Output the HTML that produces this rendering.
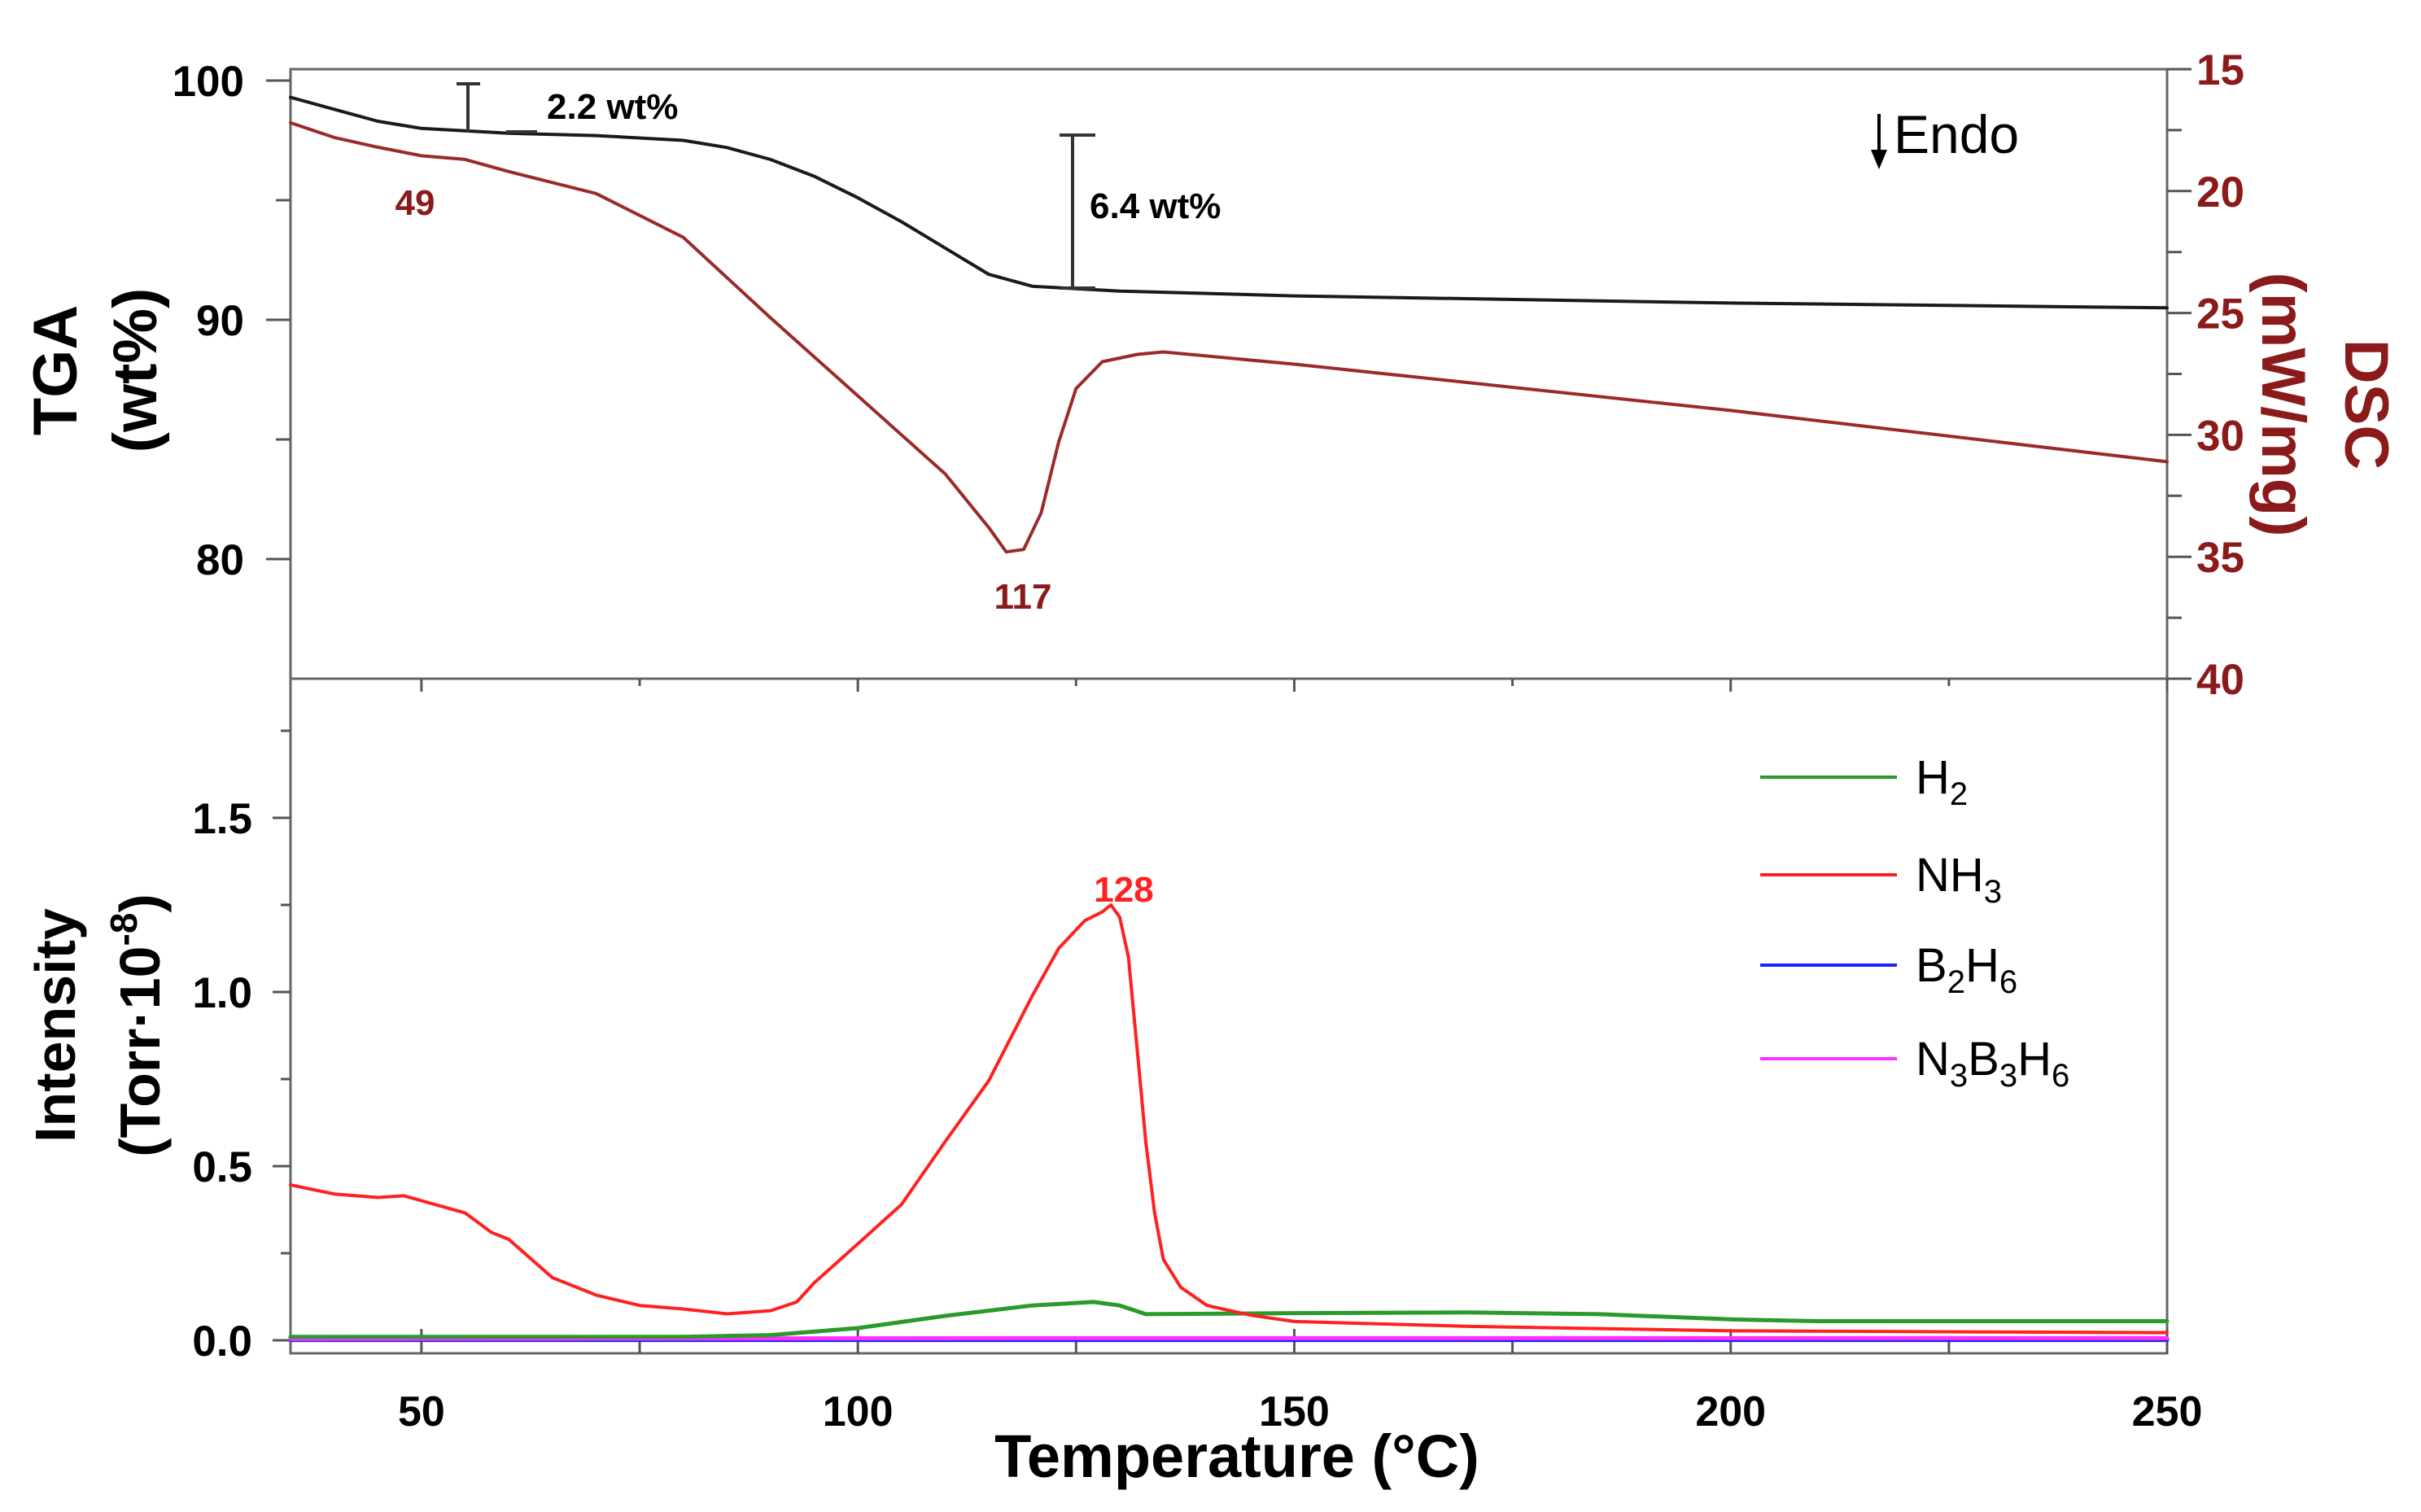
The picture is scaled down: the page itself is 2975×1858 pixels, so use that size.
<!DOCTYPE html>
<html><head><meta charset="utf-8"><style>
html,body{margin:0;padding:0;background:#fff}
svg{display:block;font-family:"Liberation Sans",Arial,sans-serif}
</style></head><body>
<svg id="chart" width="2975" height="1858" viewBox="0 0 2975 1858" xmlns="http://www.w3.org/2000/svg">
<g id="axes"></g>
<g id="series"></g>
<g id="labels">
  <text transform="translate(94,455) rotate(-90)" text-anchor="middle" font-size="76" font-weight="bold">TGA</text>
  <text transform="translate(192,455) rotate(-90)" text-anchor="middle" font-size="76" font-weight="bold">(wt%)</text>
  <text transform="translate(2882,497) rotate(90)" text-anchor="middle" font-size="76" font-weight="bold" fill="#8b1a1a">DSC</text>
  <text transform="translate(2780,497) rotate(90)" text-anchor="middle" font-size="76" font-weight="bold" fill="#8b1a1a">(mW/mg)</text>
  <text transform="translate(92,1260) rotate(-90)" text-anchor="middle" font-size="70" font-weight="bold">Intensity</text>
  <text transform="translate(196,1260) rotate(-90)" text-anchor="middle" font-size="70" font-weight="bold">(Torr·10<tspan font-size="46" dy="-28">-8</tspan><tspan dy="28">)</tspan></text>
  <text x="1520" y="1815" text-anchor="middle" font-size="74" font-weight="bold">Temperature (°C)</text>
  <text x="2327" y="188" font-size="66">Endo</text>
  <line x1="2309" y1="140" x2="2309" y2="200" stroke="#000" stroke-width="4"/>
  <polygon points="2299,184 2319,184 2309,208" fill="#000"/>
  <text x="672" y="146" font-size="44" font-weight="bold">2.2 wt%</text>
  <text x="1339" y="268" font-size="44" font-weight="bold">6.4 wt%</text>
  <text x="510" y="264" text-anchor="middle" font-size="44" font-weight="bold" fill="#8b1a1a">49</text>
  <text x="1257" y="748" text-anchor="middle" font-size="44" font-weight="bold" fill="#8b1a1a">117</text>
  <text x="1381" y="1108" text-anchor="middle" font-size="44" font-weight="bold" fill="#ff2020">128</text>
  <g stroke="#333" stroke-width="4">
    <line x1="575" y1="103" x2="575" y2="162"/><line x1="561" y1="103" x2="590" y2="103"/><line x1="622" y1="162" x2="660" y2="162"/>
  </g>
  <g stroke="#333" stroke-width="4">
    <line x1="1318" y1="166" x2="1318" y2="354"/><line x1="1302" y1="166" x2="1346" y2="166"/><line x1="1302" y1="354" x2="1346" y2="354"/>
  </g>
  <g font-size="58">
    <g><line x1="2163" y1="955" x2="2331" y2="955" stroke="#2a9a2a" stroke-width="4"/><text x="2354" y="975">H<tspan font-size="40" dy="14">2</tspan></text></g>
    <g><line x1="2163" y1="1075" x2="2331" y2="1075" stroke="#ff2020" stroke-width="4"/><text x="2354" y="1095">NH<tspan font-size="40" dy="14">3</tspan></text></g>
    <g><line x1="2163" y1="1186" x2="2331" y2="1186" stroke="#2020ff" stroke-width="4"/><text x="2354" y="1206">B<tspan font-size="40" dy="14">2</tspan><tspan dy="-14">H</tspan><tspan font-size="40" dy="14">6</tspan></text></g>
    <g><line x1="2163" y1="1301" x2="2331" y2="1301" stroke="#ff30ff" stroke-width="4"/><text x="2354" y="1321">N<tspan font-size="40" dy="14">3</tspan><tspan dy="-14">B</tspan><tspan font-size="40" dy="14">3</tspan><tspan dy="-14">H</tspan><tspan font-size="40" dy="14">6</tspan></text></g>
  </g>
</g>
</svg>
<script>
const tgaT = [35,40,45,50,55,60,70,80,85,90,95,100,105,110,115,120,125,130,150,200,250];
const tgaV = [99.3,98.8,98.3,98.0,97.9,97.8,97.7,97.5,97.2,96.7,96.0,95.1,94.1,93.0,91.9,91.4,91.3,91.2,91.0,90.7,90.5];
const dscT = [35,40,45,50,55,60,70,80,90,100,110,115,117,119,121,123,125,128,132,135,150,200,250];
const dscV = [17.2,17.8,18.2,18.55,18.7,19.2,20.1,21.9,25.2,28.4,31.6,33.8,34.8,34.7,33.2,30.3,28.1,27.0,26.7,26.6,27.1,29.0,31.1];
const nh3T = [35,40,45,48,55,58,60,65,70,75,80,85,90,93,95,100,105,110,115,120,123,126,128,129,130,131,132,133,134,135,137,140,145,150,170,200,250];
const nh3V = [0.446,0.42,0.41,0.415,0.366,0.31,0.29,0.18,0.13,0.10,0.09,0.076,0.085,0.11,0.165,0.277,0.39,0.57,0.745,0.99,1.125,1.205,1.23,1.25,1.215,1.10,0.835,0.567,0.366,0.232,0.152,0.10,0.072,0.054,0.04,0.027,0.022];
const h2T = [35,80,90,100,110,120,127,130,133,150,170,185,200,210,250];
const h2V = [0.01,0.01,0.015,0.035,0.07,0.10,0.11,0.10,0.075,0.078,0.08,0.075,0.06,0.055,0.055];
const b2h6T = [35,250];
const b2h6V = [0.001,0.001];
const n3b3h6T = [35,120,250];
const n3b3h6V = [0.004,0.006,0.006];
const xTicks = [50,100,150,200,250];
const tgaTicks = [80,90,100];
const dscTicks = [15,20,25,30,35,40];
const msTicks = [0.0,0.5,1.0,1.5];

const NS="http://www.w3.org/2000/svg";
const L=357,R=2663,T=85,M=834,B=1663;
const X=t=>L+(t-35)*(R-L)/215;
const Ytga=v=>99+(100-v)*29.4;
const Ydsc=v=>85+(v-15)*29.96;
const Yms=v=>1647-v*428;
const axes=document.getElementById('axes'), series=document.getElementById('series');
function el(tag,attrs,parent){const e=document.createElementNS(NS,tag);for(const k in attrs)e.setAttribute(k,attrs[k]);parent.appendChild(e);return e;}
function ln(x1,y1,x2,y2,c){return el('line',{x1,y1,x2,y2,stroke:c||'#555','stroke-width':3},axes);}

const f1=el('rect',{x:L,y:T,width:R-L,height:M-T,fill:'none',stroke:'#666','stroke-width':3},axes);


const f2=el('rect',{x:L,y:M,width:R-L,height:B-M,fill:'none',stroke:'#666','stroke-width':3},axes);



for(let t=50;t<=250;t+=25){const maj=(t%50===0);ln(X(t),B,X(t),B-(maj?30:16));ln(X(t),M,X(t),M+(maj?16:9));}
xTicks.forEach(t=>{const tx=el('text',{x:X(t),y:1752,'text-anchor':'middle','font-size':52,'font-weight':'bold'},axes);tx.textContent=t;

});
for(let v=80;v<=100;v+=5){ln(L-(v%10===0?30:18),Ytga(v),L,Ytga(v));}
tgaTicks.forEach(v=>{const tx=el('text',{x:300,y:Ytga(v)+19,'text-anchor':'end','font-size':53,'font-weight':'bold'},axes);tx.textContent=v;

});
for(let v=15;v<=40;v+=2.5){ln(R,Ydsc(v),R+(v%5===0?30:18),Ydsc(v));}
dscTicks.forEach(v=>{const tx=el('text',{x:2699,y:Ydsc(v)+19,'font-size':53,'font-weight':'bold',fill:'#8b1a1a'},axes);tx.textContent=v;

});
for(let v=0;v<=1.75;v+=0.25){ln(L-(Math.abs(v*2-Math.round(v*2))<1e-6?22:12),Yms(v),L,Yms(v));}
msTicks.forEach(v=>{const tx=el('text',{x:310,y:Yms(v)+19,'text-anchor':'end','font-size':53,'font-weight':'bold'},axes);tx.textContent=v.toFixed(1);

});

function line(ts,vs,yf,color,name,w){
  const p=el('polyline',{points:ts.map((t,i)=>X(t).toFixed(1)+','+yf(vs[i]).toFixed(1)).join(' '),fill:'none',stroke:color,'stroke-width':w||4,'stroke-linejoin':'round','stroke-linecap':'round'},series);
  
  
}
line(tgaT,tgaV,Ytga,'#1a1a1a','tga-line');
line(dscT,dscV,Ydsc,'#9b2a2a','dsc-line');
line(b2h6T,b2h6V,Yms,'#2020ff','b2h6-line',5);
line(n3b3h6T,n3b3h6V,Yms,'#ff30ff','n3b3h6-line',5);
line(h2T,h2V,Yms,'#2a9a2a','h2-line',5);
line(nh3T,nh3V,Yms,'#ff2020','nh3-line',4);
</script>
</body></html>
